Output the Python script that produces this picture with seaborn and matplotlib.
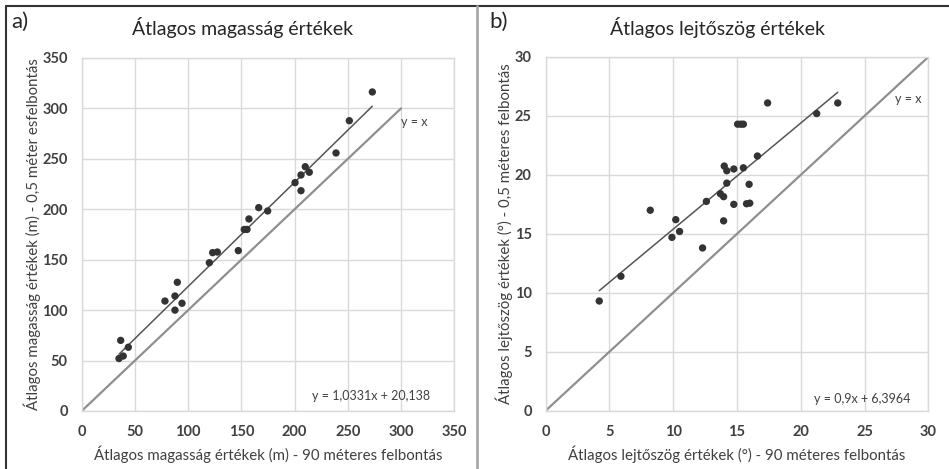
import numpy as np
import pandas as pd
import matplotlib
matplotlib.use('Agg')
import matplotlib.pyplot as plt
import seaborn as sns
from matplotlib.lines import Line2D

# a) magassag (m): 90 m vs 0,5 m felbontas
h90 = [35, 39, 36.6, 43.8, 78.2, 87.6, 87.6, 89.8, 94.2, 119.9, 123, 127.4, 147.1, 152.7,
       155.3, 157.1, 166.3, 174.7, 200.4, 206, 206, 210, 213.8, 238.9, 251.4, 273]
h05 = [52, 54.5, 70, 63.2, 109, 114, 100, 127.6, 106.8, 147, 157, 157.6, 159, 180,
       180, 190.4, 201.6, 198.3, 226.4, 234, 218.4, 242.2, 236.7, 255.8, 287.8, 316.3]
h_fit = (1.0331, 20.138)
h_ident = [0, 300]

# b) lejtoszog (fok)
s90 = [4.2, 5.9, 8.2, 9.9, 10.2, 10.5, 12.3, 12.6, 13.7, 13.95, 13.95, 14.0, 14.2, 14.2,
       14.75, 14.75, 15.05, 15.3, 15.5, 15.5, 15.75, 15.95, 16.0, 16.6, 17.4, 21.25, 22.9]
s05 = [9.3, 11.4, 17.0, 14.7, 16.2, 15.2, 13.8, 17.75, 18.4, 18.15, 16.1, 20.75, 20.35, 19.3,
       20.5, 17.5, 24.3, 24.3, 24.3, 20.6, 17.55, 19.2, 17.6, 21.6, 26.1, 25.2, 26.1]
s_fit = (0.9, 6.3964)
s_ident = [0, 30]

sns.set_style("whitegrid")
plt.rcParams['font.family'] = ['Lato', 'DejaVu Sans']

dot_c = '#333333'
grid_c = '#d9d9d9'
txt_c = '#404040'

fig = plt.figure(figsize=(9.49, 4.69), dpi=100)
ax1 = fig.add_axes([0.0861, 0.1237, 0.3926, 0.7527])
ax2 = fig.add_axes([0.575, 0.1244, 0.4032, 0.7541])


def panel(ax, x, y, fit, ident, lim, step, xlab, ylab, eq, eq_pos, yx_pos):
    df = pd.DataFrame({'x': x, 'y': y})
    fx = np.array([min(x), max(x)])
    fit_df = pd.DataFrame({'x': fx, 'y': fit[0] * fx + fit[1]})
    id_df = pd.DataFrame({'x': ident, 'y': ident})
    sns.lineplot(x='x', y='y', data=id_df, color='#8f8f8f', linewidth=1.6, ax=ax)
    sns.lineplot(x='x', y='y', data=fit_df, color='#555555', linewidth=1.1, ax=ax)
    sns.scatterplot(x='x', y='y', data=df, color=dot_c, s=28, edgecolor='none', ax=ax, zorder=3)
    ax.set_xlim(0, lim)
    ax.set_ylim(0, lim)
    ticks = np.arange(0, lim + step / 2, step)
    ax.set_xticks(ticks)
    ax.set_yticks(ticks)
    ax.set_xticklabels([str(int(t)) for t in ticks])
    ax.set_yticklabels([str(int(t)) for t in ticks])
    ax.grid(True, color=grid_c, linewidth=1)
    for sp in ax.spines.values():
        sp.set_color(grid_c)
        sp.set_linewidth(1)
    ax.tick_params(axis='x', length=0, labelsize=10.5, labelcolor=txt_c, pad=10)
    ax.tick_params(axis='y', length=0, labelsize=10.5, labelcolor=txt_c, pad=10)
    for lab in ax.get_xticklabels() + ax.get_yticklabels():
        lab.set_fontweight('bold')
    ax.set_xlabel(xlab, fontsize=10.8, color=txt_c, labelpad=5)
    ax.set_ylabel(ylab, fontsize=10.8, color=txt_c, labelpad=1)
    ax.text(eq_pos[0], eq_pos[1], eq, ha='right', va='center', fontsize=9, color=txt_c)
    ax.text(yx_pos[0], yx_pos[1], 'y = x', ha='left', va='center', fontsize=9, color=txt_c)


panel(ax1, h90, h05, h_fit, h_ident, 350, 50,
      'Átlagos magasság értékek (m) - 90 méteres felbontás',
      'Átlagos magasság értékek (m) - 0,5 méter esfelbontás',
      'y = 1,0331x + 20,138', (327, 15), (300, 287))
panel(ax2, s90, s05, s_fit, s_ident, 30, 5,
      'Átlagos lejtőszög értékek (°) - 90 méteres felbontás',
      'Átlagos lejtőszög értékek (°) - 0,5 méteres felbontás',
      'y = 0,9x + 6,3964', (28.6, 1.0), (27.4, 26.4))

W, H = 949, 469
fig.text(243 / W, 1 - 27 / H, 'Átlagos magasság értékek', ha='center', va='center',
         fontsize=14, color='#262626')
fig.text(718 / W, 1 - 27 / H, 'Átlagos lejtőszög értékek', ha='center', va='center',
         fontsize=14, color='#262626')
fig.text(11 / W, 1 - 22 / H, 'a)', ha='left', va='center', fontsize=16, color='#262626')
fig.text(489 / W, 1 - 22 / H, 'b)', ha='left', va='center', fontsize=16, color='#262626')

# panel frames
fig.add_artist(Line2D([6 / W, 6 / W], [0, 1 - 6 / H], color='#333333', linewidth=1.5))
fig.add_artist(Line2D([6 / W, 1], [1 - 6 / H, 1 - 6 / H], color='#333333', linewidth=1.5))
fig.add_artist(Line2D([477 / W, 477 / W], [0, 1 - 6 / H], color='#a8a8a8', linewidth=2))

plt.savefig('out.png', dpi=100)
